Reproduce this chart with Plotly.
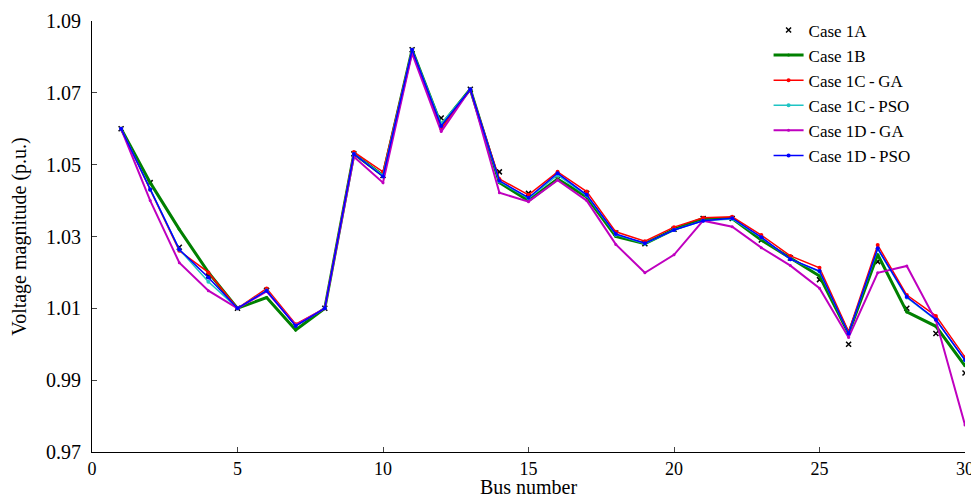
import plotly.graph_objects as go

bus = list(range(1, 31))
case_1a = [1.060, 1.045, 1.027, 1.019, 1.010, 1.015, 1.005, 1.010, 1.053, 1.047,
           1.082, 1.063, 1.071, 1.048, 1.042, 1.047, 1.042, 1.031, 1.028, 1.032,
           1.035, 1.035, 1.029, 1.024, 1.018, 1.000, 1.023, 1.010, 1.003, 0.992]
case_1b = [1.060, 1.045, 1.032, 1.020, 1.010, 1.013, 1.004, 1.010, 1.053, 1.047,
           1.082, 1.061, 1.071, 1.045, 1.040, 1.046, 1.041, 1.030, 1.028, 1.032,
           1.035, 1.035, 1.029, 1.024, 1.019, 1.003, 1.025, 1.009, 1.005, 0.994]
case_1c_ga = [1.060, 1.043, 1.026, 1.020, 1.010, 1.0155, 1.0056, 1.010, 1.0535, 1.048,
              1.082, 1.060, 1.071, 1.046, 1.0416, 1.048, 1.0425, 1.0313, 1.0287, 1.0326,
              1.0352, 1.0355, 1.0304, 1.0246, 1.0213, 1.0035, 1.0276, 1.0137, 1.0079, 0.9964]
case_1c_pso = [1.060, 1.043, 1.0264, 1.0174, 1.010, 1.015, 1.0052, 1.010, 1.053, 1.047,
               1.082, 1.0614, 1.071, 1.0453, 1.0406, 1.0471, 1.0414, 1.0305, 1.028, 1.0318,
               1.0344, 1.0349, 1.0297, 1.0237, 1.0202, 1.003, 1.0265, 1.0130, 1.0068, 0.9955]
case_1d_ga = [1.060, 1.040, 1.0227, 1.0149, 1.010, 1.0147, 1.0053, 1.010, 1.0522, 1.045,
              1.081, 1.0592, 1.071, 1.0422, 1.0397, 1.0457, 1.040, 1.0278, 1.0199, 1.0249,
              1.0344, 1.0327, 1.0269, 1.0219, 1.0156, 1.0019, 1.0199, 1.0218, 1.0066, 0.9775]
case_1d_pso = [1.060, 1.0431, 1.0264, 1.0186, 1.010, 1.0149, 1.0051, 1.010, 1.053, 1.0467,
               1.082, 1.0608, 1.071, 1.0455, 1.0408, 1.0476, 1.0416, 1.0307, 1.0281, 1.0318,
               1.0344, 1.0351, 1.0298, 1.0237, 1.0204, 1.003, 1.0267, 1.0132, 1.0069, 0.9956]

x_ticks = [0, 5, 10, 15, 20, 25, 30]
y_ticks = [0.97, 0.99, 1.01, 1.03, 1.05, 1.07, 1.09]

fig = go.Figure()
fig.add_trace(go.Scatter(x=bus, y=case_1a, mode="markers", name="Case 1A",
                         marker=dict(symbol="x-thin", size=5, color="black",
                                     line=dict(width=1.5, color="black"))))
fig.add_trace(go.Scatter(x=bus, y=case_1b, mode="lines+markers", name="Case 1B",
                         line=dict(color="#008000", width=3),
                         marker=dict(size=3, color="#008000")))
fig.add_trace(go.Scatter(x=bus, y=case_1c_ga, mode="lines+markers", name="Case 1C\u2009-\u2009GA",
                         line=dict(color="#ff0000", width=1.5),
                         marker=dict(size=4, color="#ff0000")))
fig.add_trace(go.Scatter(x=bus, y=case_1c_pso, mode="lines+markers", name="Case 1C\u2009-\u2009PSO",
                         line=dict(color="#1fc4c4", width=1.5),
                         marker=dict(size=4, color="#1fc4c4")))
fig.add_trace(go.Scatter(x=bus, y=case_1d_ga, mode="lines+markers", name="Case 1D\u2009-\u2009GA",
                         line=dict(color="#bf00bf", width=2),
                         marker=dict(size=3, color="#bf00bf")))
fig.add_trace(go.Scatter(x=bus, y=case_1d_pso, mode="lines+markers", name="Case 1D\u2009-\u2009PSO",
                         line=dict(color="#0000ff", width=1.5),
                         marker=dict(size=4, color="#0000ff")))

font_family = "Liberation Serif, Times New Roman, serif"
fig.update_layout(
    width=971, height=490,
    margin=dict(l=84, r=14, t=13, b=46, autoexpand=False),
    plot_bgcolor="white", paper_bgcolor="white",
    font=dict(family=font_family, size=20, color="black"),
    showlegend=True,
    legend=dict(x=0.775, y=1.02, xanchor="left", yanchor="top",
                bgcolor="rgba(0,0,0,0)", font=dict(size=17),
                tracegroupgap=0, itemwidth=30),
    xaxis=dict(range=[0, 30], tickvals=x_ticks, ticks="inside", ticklen=5,
               showline=True, linecolor="black", linewidth=1, showgrid=False,
               zeroline=False, mirror=False, automargin=False,
               tickfont=dict(size=18),
               title=dict(text="Bus number", standoff=0, font=dict(size=20))),
    yaxis=dict(range=[0.97, 1.09], tickvals=y_ticks, tickformat=".2f",
               ticks="inside", ticklen=5, ticklabelstandoff=6,
               showline=True, linecolor="black", linewidth=1, showgrid=False,
               zeroline=False, mirror=False, automargin=False,
               tickfont=dict(size=20),
               title=dict(text="Voltage magnitude (p.u.)", standoff=17, font=dict(size=20))),
)

fig.write_html("out.html")
